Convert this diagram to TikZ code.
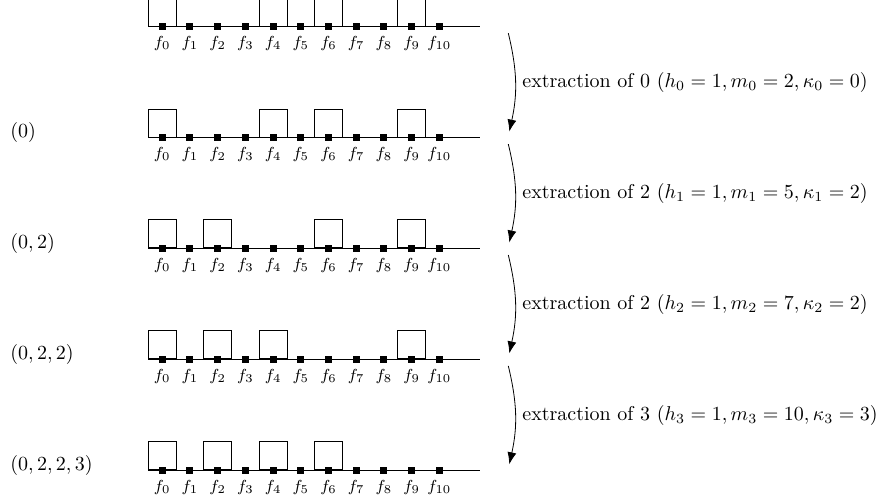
\documentclass[tikz,border=0pt]{standalone}
\usetikzlibrary{arrows.meta}
\begin{document}
\begin{tikzpicture}[x=0.5pt,y=-0.5pt,
  cell/.style={draw, minimum size=14pt, inner sep=0pt, anchor=south},
  marker/.style={fill, minimum size=3.5pt, inner sep=0pt},
  flab/.style={anchor=base, inner sep=0pt, font=\footnotesize},
  seqlab/.style={anchor=base west, inner sep=0pt},
  extr/.style={-{Latex[length=6pt,width=4.5pt]}, bend left=13},
  extrlab/.style={right, inner sep=3.33pt},
  line width=0.4pt]
\useasboundingbox (0,0) rectangle (881,501);
\foreach \k/\boxes in {0/{0,4,6,9},1/{0,4,6,9},2/{0,2,6,9},3/{0,2,4,9},4/{0,2,4,6}}{
  \pgfmathsetmacro\yy{26.5+110.9*\k}
  \foreach \i in \boxes {
    \node[cell] (b-\k-\i) at ({162.2+27.72*\i},\yy) {};
  }
  \coordinate (L\k) at (148,\yy);
  \coordinate (R\k) at (480,\yy);
  \draw (L\k) -- (R\k);
  \foreach \i in {0,...,10} {
    \node[marker] (m-\k-\i) at ({162.2+27.72*\i},\yy) {};
    \node[flab] (f-\k-\i) at ({162.2+27.72*\i},\yy+21) {$f_{\i}$};
  }
}
\node[seqlab] (s1) at (10,137.4) {$(0)$};
\node[seqlab] (s2) at (10,248.3) {$(0,2)$};
\node[seqlab] (s3) at (10,359.2) {$(0,2,2)$};
\node[seqlab] (s4) at (10,470.1) {$(0,2,2,3)$};
\coordinate (a0) at (508.3,33.2);  \coordinate (e0) at (509.3,131.6);
\coordinate (a1) at (508.3,144.1); \coordinate (e1) at (509.3,242.5);
\coordinate (a2) at (508.3,255.0); \coordinate (e2) at (509.3,353.4);
\coordinate (a3) at (508.3,365.9); \coordinate (e3) at (509.3,464.3);
\draw[extr] (a0) to node[extrlab] (t0) {extraction of 0 ($h_0 = 1, m_0 = 2, \kappa_0 = 0$)} (e0);
\draw[extr] (a1) to node[extrlab] (t1) {extraction of 2 ($h_1 = 1, m_1 = 5, \kappa_1 = 2$)} (e1);
\draw[extr] (a2) to node[extrlab] (t2) {extraction of 2 ($h_2 = 1, m_2 = 7, \kappa_2 = 2$)} (e2);
\draw[extr] (a3) to node[extrlab] (t3) {extraction of 3 ($h_3 = 1, m_3 = 10, \kappa_3 = 3$)} (e3);
\end{tikzpicture}
\end{document}
